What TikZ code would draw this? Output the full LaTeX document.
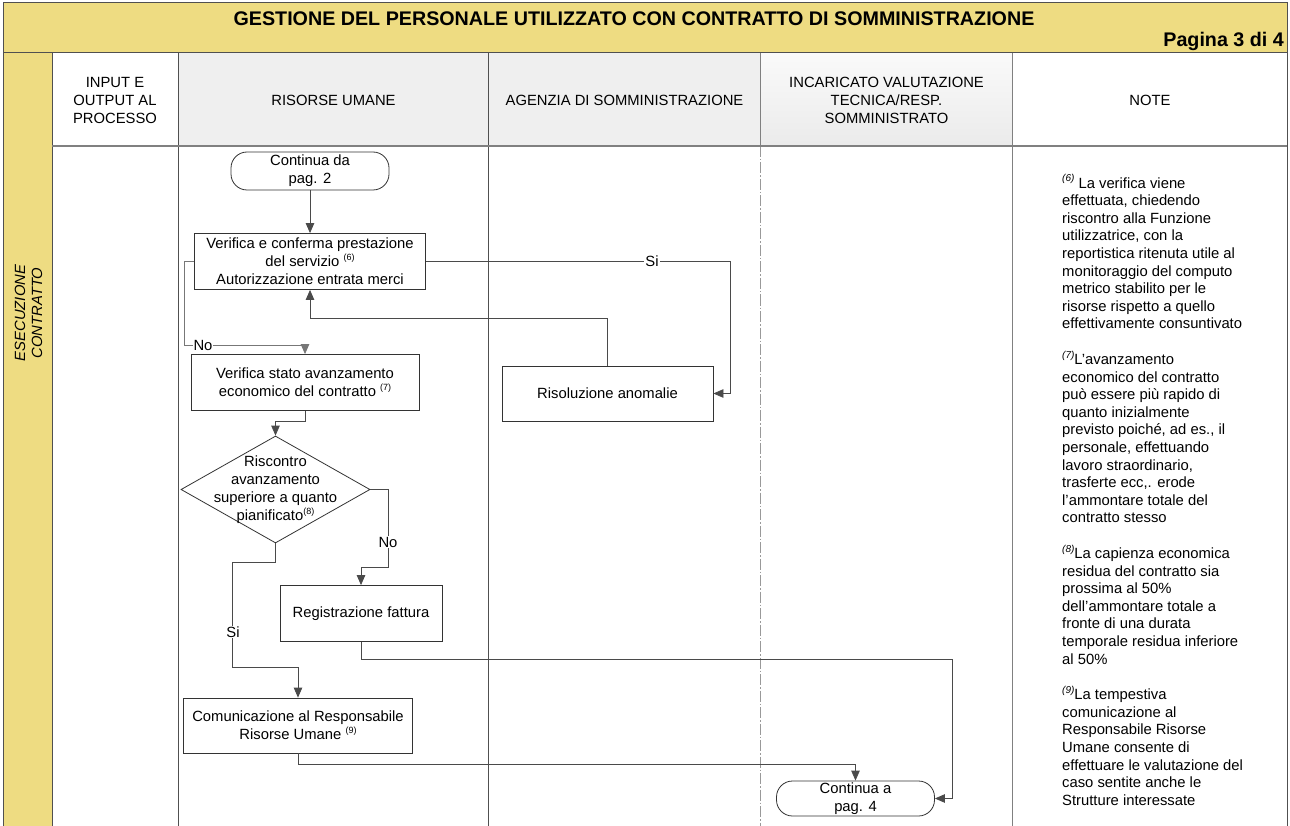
\documentclass[tikz,border=0pt]{standalone}
\usepackage{fontspec}
\setmainfont{Liberation Sans}
\usetikzlibrary{arrows.meta,shapes.geometric}

\definecolor{bandyellow}{HTML}{EEDC82}
\definecolor{hdrgray}{HTML}{EFEFEF}
\definecolor{wire}{HTML}{4A4A4A}
\definecolor{wirelight}{HTML}{777777}
\definecolor{gridline}{HTML}{505050}

% small reference marks after a text
\newcommand{\fnm}[1]{\raisebox{0.42em}{\fontsize{9}{9}\selectfont(#1)}}
\newcommand{\fni}[1]{\raisebox{0.42em}{\fontsize{10}{10}\selectfont\itshape(#1)}}

\begin{document}
\begin{tikzpicture}[x=1pt,y=-1pt,
  txt/.style={font=\fontsize{14.8}{18}\selectfont, align=center, inner sep=0pt},
  procbox/.style={draw=black!80, line width=0.8pt, fill=white, txt},
  termbox/.style={procbox, rounded corners=16pt},
  wirel/.style={draw=wire, line width=0.8pt},
  arr/.style={wirel, -{Triangle[length=10pt,width=8.5pt]}},
  lbl/.style={txt, fill=white, inner sep=1pt},
  hdr/.style={txt, font=\fontsize{14.8}{18}\selectfont},
]
\useasboundingbox (0,0) rectangle (1290,826);
\fill[white] (0,0) rectangle (1290,826);

% ---- bands and header cells
\fill[bandyellow] (3,3) rectangle (1287,53);
\fill[bandyellow] (3,53) rectangle (52,826);
\fill[hdrgray] (178,53) rectangle (488.5,146);
\fill[hdrgray] (488.5,53) rectangle (760.5,146);
\shade[top color=gray!4, bottom color=gray!16] (760.5,53) rectangle (1012.5,146);

% ---- grid
\draw[gridline, line width=1pt] (3,826) -- (3,3) -- (1287,3) -- (1287,826);
\draw[gridline, line width=1pt] (3,53) -- (1287,53);
\draw[gridline, line width=1pt] (52,53) -- (52,826);
\draw[gridline, line width=1pt] (178,53) -- (178,826);
\draw[gridline, line width=1pt] (488.5,53) -- (488.5,826);
\draw[gray, line width=1pt] (760.5,53) -- (760.5,146);
\draw[gray!80, line width=0.9pt, dash pattern=on 11pt off 2pt on 1.5pt off 2pt] (760.5,146) -- (760.5,826);
\draw[gray, line width=1pt] (1012.5,53) -- (1012.5,826);
\draw[gray, line width=2pt] (52,146) -- (1287,146);

% ---- titles
\node[inner sep=0pt, font=\fontsize{19.7}{22}\selectfont\bfseries] (title) at (634,18.5)
  {GESTIONE DEL PERSONALE UTILIZZATO CON CONTRATTO DI SOMMINISTRAZIONE};
\node[inner sep=0pt, anchor=east, font=\fontsize{19.7}{22}\selectfont\bfseries] (pagina) at (1284,41.5)
  {Pagina 3 di 4};
\node[txt, rotate=90, font=\fontsize{14.8}{17}\selectfont\itshape] (phase) at (28.5,313)
  {ESECUZIONE\\CONTRATTO};

% ---- lane headers
\node[hdr] (hinput) at (115,100) {INPUT E\\OUTPUT AL\\PROCESSO};
\node[hdr] (hru) at (333.5,100) {RISORSE UMANE};
\node[hdr] (hag) at (624.5,100) {AGENZIA DI SOMMINISTRAZIONE};
\node[hdr] (hinc) at (886.5,100) {INCARICATO VALUTAZIONE\\TECNICA/RESP.\\SOMMINISTRATO};
\node[hdr] (hnote) at (1150,100) {NOTE};

% ---- flow nodes
\node[termbox, minimum width=158pt, minimum height=38pt] (cont2) at (310,171)
  {Continua da\\pag. 2};
\node[procbox, minimum width=231pt, minimum height=56pt] (ver) at (310,261.5)
  {Verifica e conferma prestazione\\del servizio \fnm{6}\\Autorizzazione entrata merci};
\node[procbox, minimum width=211pt, minimum height=55pt] (ris) at (607.5,393.5)
  {Risoluzione anomalie};
\node[procbox, minimum width=228pt, minimum height=56pt] (stato) at (305,382.5)
  {Verifica stato avanzamento\\economico del contratto \fnm{7}};
\node[draw=black!80, line width=0.8pt, fill=white, diamond, inner sep=0pt,
      minimum width=189pt, minimum height=107pt] (diam) at (275.5,489.5) {};
\node[txt] (diamtxt) at (diam.center)
  {Riscontro\\avanzamento\\superiore a quanto\\pianificato\fnm{8}};
\node[procbox, minimum width=162pt, minimum height=56pt] (reg) at (361,613.5)
  {Registrazione fattura};
\node[procbox, minimum width=229pt, minimum height=55pt] (com) at (298,725.5)
  {Comunicazione al Responsabile\\Risorse Umane \fnm{9}};
\node[termbox, minimum width=158pt, minimum height=35pt] (cont4) at (855.5,798.5)
  {Continua a\\pag. 4};

% ---- connectors
\draw[arr] (cont2.south) -- (ver.north);
\draw[arr] (ver.east) -- ++(304,0) |- (ris.east);
\draw[arr] (ris.north) -- ++(0,-47.5) -| (ver.south);
\draw[arr, draw=wirelight] (ver.west) -- ++(-10,0) |- ([yshift=9pt]stato.north) -- (stato.north);
\draw[arr] (stato.south) -- ++(0,10) -| (diam.north);
\draw[arr] (diam.east) -- ++(18,0) |- ([yshift=18pt]reg.north) -- (reg.north);
\draw[arr] (diam.south) -- ++(0,19) -- ++(-43,0) |- ([yshift=30pt]com.north) -- (com.north);
\draw[arr] (reg.south) -- ++(0,17.5) -| ([xshift=17pt]cont4.east) -- (cont4.east);
\draw[arr] (com.south) -- ++(0,10.5) -| (cont4.north);

% ---- connector labels
\node[lbl] (siA) at (652,261.5) {Si};
\node[lbl] (noA) at (203,345.5) {No};
\node[lbl] (noB) at (388,542) {No};
\node[lbl] (siB) at (233,632) {Si};

% ---- notes
\node[anchor=north west, align=left, inner sep=0pt, font=\fontsize{14.8}{17.6}\selectfont] (notes) at (1062,174.5)
  {\fni{6} La verifica viene\\
   effettuata, chiedendo\\
   riscontro alla Funzione\\
   utilizzatrice, con la\\
   reportistica ritenuta utile al\\
   monitoraggio del computo\\
   metrico stabilito per le\\
   risorse rispetto a quello\\
   effettivamente consuntivato\\[18pt]
   \fni{7}L’avanzamento\\
   economico del contratto\\
   può essere più rapido di\\
   quanto inizialmente\\
   previsto poiché, ad es., il\\
   personale, effettuando\\
   lavoro straordinario,\\
   trasferte ecc,. erode\\
   l’ammontare totale del\\
   contratto stesso\\[18pt]
   \fni{8}La capienza economica\\
   residua del contratto sia\\
   prossima al 50\%\\
   dell’ammontare totale a\\
   fronte di una durata\\
   temporale residua inferiore\\
   al 50\%\\[18pt]
   \fni{9}La tempestiva\\
   comunicazione al\\
   Responsabile Risorse\\
   Umane consente di\\
   effettuare le valutazione del\\
   caso sentite anche le\\
   Strutture interessate};
\end{tikzpicture}
\end{document}
